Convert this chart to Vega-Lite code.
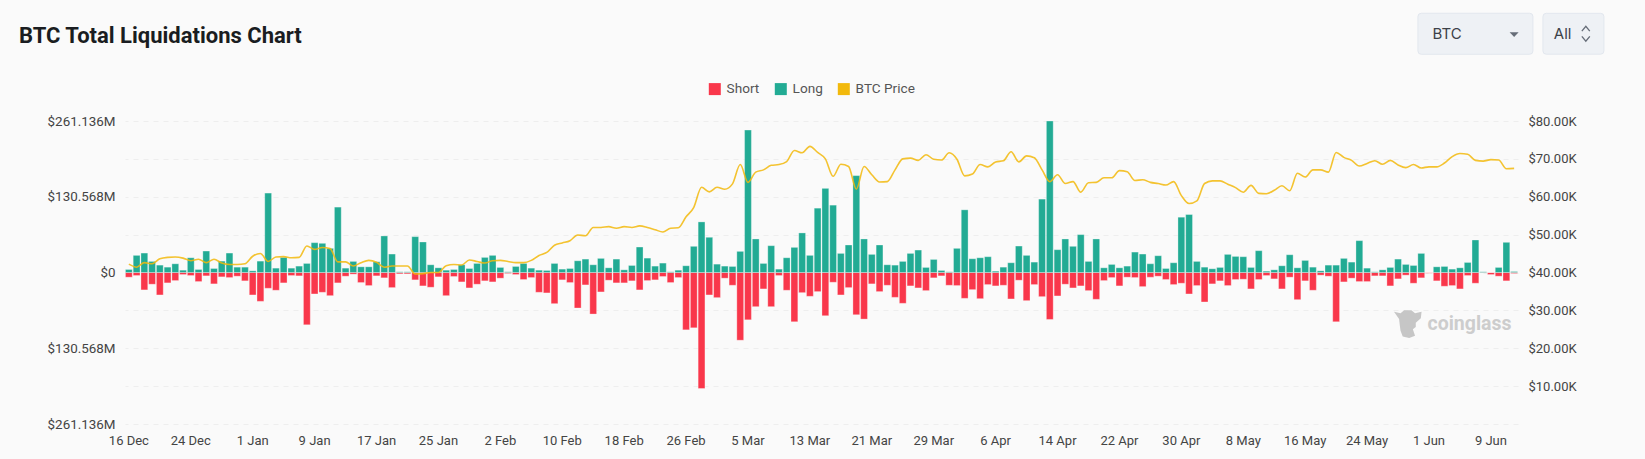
{"$schema":"https://vega.github.io/schema/vega-lite/v6.json","width":1393,"height":303,"autosize":{"type":"none"},"padding":{"left":125,"top":121,"right":127,"bottom":35},"background":"#fafafa","title":{"text":"BTC Total Liquidations Chart","anchor":"start","frame":"group","dx":-106,"offset":-54,"fontSize":22,"font":"Roboto","fontWeight":700,"color":"#1a1d21","baseline":"alphabetic"},"config":{"view":{"stroke":null},"axis":{"labelFont":"Roboto","labelFontSize":13,"labelColor":"#444444"}},"datasets":{"liq":[{"d":"16 Dec","Long":5.2,"Short":-8.1,"price":42.2},{"d":"17 Dec","Long":29.5,"Short":-5.2,"price":41.4},{"d":"18 Dec","Long":33.5,"Short":-30.0,"price":42.6},{"d":"19 Dec","Long":19.1,"Short":-20.2,"price":42.3},{"d":"20 Dec","Long":12.7,"Short":-38.7,"price":43.6},{"d":"21 Dec","Long":9.2,"Short":-17.9,"price":44.0},{"d":"22 Dec","Long":15.0,"Short":-13.9,"price":44.1},{"d":"23 Dec","Long":4.0,"Short":-3.5,"price":43.8},{"d":"24 Dec","Long":25.4,"Short":-5.2,"price":43.1},{"d":"25 Dec","Long":5.2,"Short":-15.6,"price":43.5},{"d":"26 Dec","Long":37.0,"Short":-5.8,"price":42.6},{"d":"27 Dec","Long":6.9,"Short":-19.6,"price":43.5},{"d":"28 Dec","Long":19.6,"Short":-7.5,"price":42.5},{"d":"29 Dec","Long":33.5,"Short":-8.7,"price":42.1},{"d":"30 Dec","Long":9.2,"Short":-6.4,"price":42.1},{"d":"31 Dec","Long":9.2,"Short":-14.4,"price":42.3},{"d":"1 Jan","Long":2.9,"Short":-38.7,"price":44.3},{"d":"2 Jan","Long":19.6,"Short":-49.7,"price":45.0},{"d":"3 Jan","Long":136.9,"Short":-27.2,"price":42.9},{"d":"4 Jan","Long":7.5,"Short":-30.6,"price":44.1},{"d":"5 Jan","Long":26.0,"Short":-17.9,"price":44.2},{"d":"6 Jan","Long":7.5,"Short":-5.2,"price":43.9},{"d":"7 Jan","Long":11.0,"Short":-5.8,"price":44.0},{"d":"8 Jan","Long":15.6,"Short":-90.1,"price":47.0},{"d":"9 Jan","Long":51.4,"Short":-37.0,"price":46.1},{"d":"10 Jan","Long":50.3,"Short":-34.1,"price":46.6},{"d":"11 Jan","Long":41.6,"Short":-39.9,"price":46.3},{"d":"12 Jan","Long":112.7,"Short":-17.9,"price":42.8},{"d":"13 Jan","Long":7.5,"Short":-6.4,"price":42.8},{"d":"14 Jan","Long":19.1,"Short":-2.9,"price":41.7},{"d":"15 Jan","Long":9.8,"Short":-17.3,"price":42.6},{"d":"16 Jan","Long":9.8,"Short":-22.5,"price":43.2},{"d":"17 Jan","Long":18.5,"Short":-5.8,"price":42.7},{"d":"18 Jan","Long":63.0,"Short":-9.2,"price":41.4},{"d":"19 Jan","Long":31.8,"Short":-26.0,"price":41.7},{"d":"20 Jan","Long":1.2,"Short":-2.3,"price":41.7},{"d":"21 Jan","Long":1.2,"Short":-2.3,"price":41.7},{"d":"22 Jan","Long":61.8,"Short":-12.7,"price":39.6},{"d":"23 Jan","Long":52.6,"Short":-23.1,"price":39.7},{"d":"24 Jan","Long":13.3,"Short":-25.4,"price":40.0},{"d":"25 Jan","Long":8.1,"Short":-7.5,"price":40.0},{"d":"26 Jan","Long":4.0,"Short":-39.9,"price":41.8},{"d":"27 Jan","Long":5.2,"Short":-6.9,"price":42.1},{"d":"28 Jan","Long":13.3,"Short":-16.2,"price":42.0},{"d":"29 Jan","Long":6.9,"Short":-26.6,"price":43.3},{"d":"30 Jan","Long":15.6,"Short":-20.2,"price":42.9},{"d":"31 Jan","Long":26.0,"Short":-14.4,"price":42.5},{"d":"1 Feb","Long":29.5,"Short":-16.2,"price":43.1},{"d":"2 Feb","Long":8.7,"Short":-9.8,"price":43.2},{"d":"3 Feb","Long":1.2,"Short":-1.7,"price":42.9},{"d":"4 Feb","Long":10.4,"Short":-3.5,"price":42.6},{"d":"5 Feb","Long":15.6,"Short":-12.1,"price":42.6},{"d":"6 Feb","Long":7.5,"Short":-8.7,"price":43.2},{"d":"7 Feb","Long":4.0,"Short":-34.1,"price":44.5},{"d":"8 Feb","Long":3.5,"Short":-35.2,"price":45.3},{"d":"9 Feb","Long":15.6,"Short":-53.7,"price":47.2},{"d":"10 Feb","Long":5.8,"Short":-12.7,"price":47.8},{"d":"11 Feb","Long":6.9,"Short":-17.3,"price":48.4},{"d":"12 Feb","Long":20.2,"Short":-61.2,"price":49.9},{"d":"13 Feb","Long":23.1,"Short":-21.4,"price":49.7},{"d":"14 Feb","Long":13.3,"Short":-71.6,"price":51.9},{"d":"15 Feb","Long":24.3,"Short":-33.5,"price":51.9},{"d":"16 Feb","Long":8.1,"Short":-13.3,"price":52.1},{"d":"17 Feb","Long":23.1,"Short":-17.9,"price":51.7},{"d":"18 Feb","Long":4.6,"Short":-17.9,"price":52.1},{"d":"19 Feb","Long":12.1,"Short":-14.4,"price":51.9},{"d":"20 Feb","Long":43.9,"Short":-30.0,"price":52.3},{"d":"21 Feb","Long":24.8,"Short":-13.9,"price":51.9},{"d":"22 Feb","Long":11.0,"Short":-12.7,"price":51.3},{"d":"23 Feb","Long":16.2,"Short":-6.9,"price":50.7},{"d":"24 Feb","Long":1.2,"Short":-17.3,"price":51.7},{"d":"25 Feb","Long":4.0,"Short":-8.7,"price":51.8},{"d":"26 Feb","Long":11.6,"Short":-98.8,"price":54.7},{"d":"27 Feb","Long":45.1,"Short":-95.3,"price":57.2},{"d":"28 Feb","Long":87.2,"Short":-199.9,"price":62.5},{"d":"29 Feb","Long":60.7,"Short":-38.7,"price":61.3},{"d":"1 Mar","Long":14.4,"Short":-43.3,"price":62.5},{"d":"2 Mar","Long":11.0,"Short":-9.8,"price":62.0},{"d":"3 Mar","Long":10.4,"Short":-22.0,"price":63.4},{"d":"4 Mar","Long":36.4,"Short":-116.7,"price":68.5},{"d":"5 Mar","Long":245.5,"Short":-81.5,"price":63.8},{"d":"6 Mar","Long":57.8,"Short":-58.9,"price":66.5},{"d":"7 Mar","Long":15.6,"Short":-28.3,"price":67.1},{"d":"8 Mar","Long":46.2,"Short":-58.9,"price":68.3},{"d":"9 Mar","Long":5.8,"Short":-5.2,"price":68.5},{"d":"10 Mar","Long":25.4,"Short":-30.6,"price":69.3},{"d":"11 Mar","Long":43.3,"Short":-84.9,"price":72.2},{"d":"12 Mar","Long":68.2,"Short":-34.7,"price":71.6},{"d":"13 Mar","Long":29.5,"Short":-41.0,"price":73.3},{"d":"14 Mar","Long":110.9,"Short":-32.9,"price":71.7},{"d":"15 Mar","Long":145.0,"Short":-74.5,"price":70.0},{"d":"16 Mar","Long":116.1,"Short":-16.8,"price":65.4},{"d":"17 Mar","Long":32.9,"Short":-38.7,"price":68.6},{"d":"18 Mar","Long":47.4,"Short":-26.0,"price":68.0},{"d":"19 Mar","Long":167.0,"Short":-72.8,"price":62.0},{"d":"20 Mar","Long":57.8,"Short":-80.3,"price":68.0},{"d":"21 Mar","Long":31.2,"Short":-19.6,"price":65.8},{"d":"22 Mar","Long":47.4,"Short":-32.9,"price":63.9},{"d":"23 Mar","Long":13.3,"Short":-22.0,"price":64.0},{"d":"24 Mar","Long":12.7,"Short":-42.8,"price":67.1},{"d":"25 Mar","Long":19.1,"Short":-53.1,"price":70.0},{"d":"26 Mar","Long":32.9,"Short":-23.1,"price":70.2},{"d":"27 Mar","Long":38.7,"Short":-26.6,"price":69.6},{"d":"28 Mar","Long":8.7,"Short":-31.2,"price":71.1},{"d":"29 Mar","Long":22.5,"Short":-9.2,"price":69.9},{"d":"30 Mar","Long":3.5,"Short":-5.8,"price":69.7},{"d":"31 Mar","Long":1.2,"Short":-22.0,"price":71.6},{"d":"1 Apr","Long":41.6,"Short":-22.5,"price":69.9},{"d":"2 Apr","Long":108.0,"Short":-44.5,"price":65.5},{"d":"3 Apr","Long":23.7,"Short":-29.5,"price":66.0},{"d":"4 Apr","Long":25.4,"Short":-45.1,"price":68.5},{"d":"5 Apr","Long":27.2,"Short":-20.8,"price":67.9},{"d":"6 Apr","Long":2.3,"Short":-23.1,"price":69.2},{"d":"7 Apr","Long":9.2,"Short":-22.0,"price":69.5},{"d":"8 Apr","Long":16.8,"Short":-45.6,"price":71.9},{"d":"9 Apr","Long":45.6,"Short":-13.3,"price":69.2},{"d":"10 Apr","Long":29.5,"Short":-48.5,"price":70.8},{"d":"11 Apr","Long":17.9,"Short":-20.8,"price":70.3},{"d":"12 Apr","Long":126.5,"Short":-41.6,"price":67.1},{"d":"13 Apr","Long":261.1,"Short":-80.9,"price":64.0},{"d":"14 Apr","Long":39.3,"Short":-40.4,"price":65.8},{"d":"15 Apr","Long":57.8,"Short":-20.2,"price":63.5},{"d":"16 Apr","Long":45.1,"Short":-26.6,"price":64.0},{"d":"17 Apr","Long":65.3,"Short":-23.1,"price":61.2},{"d":"18 Apr","Long":19.1,"Short":-31.2,"price":63.7},{"d":"19 Apr","Long":57.8,"Short":-46.2,"price":63.8},{"d":"20 Apr","Long":8.1,"Short":-13.9,"price":65.0},{"d":"21 Apr","Long":13.9,"Short":-8.7,"price":65.0},{"d":"22 Apr","Long":8.1,"Short":-23.1,"price":66.9},{"d":"23 Apr","Long":11.0,"Short":-8.1,"price":66.6},{"d":"24 Apr","Long":35.2,"Short":-8.7,"price":64.3},{"d":"25 Apr","Long":31.8,"Short":-24.3,"price":64.5},{"d":"26 Apr","Long":15.0,"Short":-8.1,"price":63.8},{"d":"27 Apr","Long":28.9,"Short":-6.4,"price":63.5},{"d":"28 Apr","Long":6.9,"Short":-12.1,"price":63.1},{"d":"29 Apr","Long":16.8,"Short":-20.8,"price":64.0},{"d":"30 Apr","Long":95.3,"Short":-18.5,"price":60.3},{"d":"1 May","Long":99.9,"Short":-37.0,"price":58.2},{"d":"2 May","Long":19.1,"Short":-22.5,"price":58.9},{"d":"3 May","Long":9.2,"Short":-50.8,"price":63.5},{"d":"4 May","Long":6.4,"Short":-19.6,"price":64.2},{"d":"5 May","Long":8.7,"Short":-14.4,"price":64.2},{"d":"6 May","Long":31.2,"Short":-22.5,"price":63.3},{"d":"7 May","Long":27.7,"Short":-12.1,"price":62.4},{"d":"8 May","Long":27.2,"Short":-11.6,"price":61.2},{"d":"9 May","Long":8.7,"Short":-28.3,"price":63.0},{"d":"10 May","Long":37.6,"Short":-12.1,"price":60.9},{"d":"11 May","Long":2.3,"Short":-5.2,"price":60.8},{"d":"12 May","Long":4.6,"Short":-11.0,"price":61.7},{"d":"13 May","Long":11.6,"Short":-28.3,"price":62.9},{"d":"14 May","Long":30.6,"Short":-8.1,"price":61.6},{"d":"15 May","Long":8.1,"Short":-46.8,"price":66.2},{"d":"16 May","Long":20.8,"Short":-14.4,"price":65.2},{"d":"17 May","Long":9.2,"Short":-30.6,"price":67.1},{"d":"18 May","Long":2.9,"Short":-4.6,"price":67.1},{"d":"19 May","Long":12.7,"Short":-6.4,"price":66.5},{"d":"20 May","Long":12.7,"Short":-84.9,"price":71.7},{"d":"21 May","Long":24.3,"Short":-16.2,"price":70.4},{"d":"22 May","Long":17.9,"Short":-9.8,"price":69.6},{"d":"23 May","Long":54.9,"Short":-15.6,"price":68.1},{"d":"24 May","Long":7.5,"Short":-15.6,"price":68.8},{"d":"25 May","Long":1.2,"Short":-5.8,"price":69.5},{"d":"26 May","Long":4.6,"Short":-5.8,"price":68.6},{"d":"27 May","Long":8.7,"Short":-23.1,"price":69.6},{"d":"28 May","Long":23.1,"Short":-11.0,"price":68.4},{"d":"29 May","Long":13.9,"Short":-4.6,"price":67.7},{"d":"30 May","Long":12.1,"Short":-18.5,"price":68.5},{"d":"31 May","Long":32.9,"Short":-9.2,"price":67.6},{"d":"1 Jun","Long":0,"Short":-1.2,"price":67.9},{"d":"2 Jun","Long":9.8,"Short":-14.4,"price":67.9},{"d":"3 Jun","Long":10.4,"Short":-23.7,"price":68.9},{"d":"4 Jun","Long":5.8,"Short":-22.5,"price":70.6},{"d":"5 Jun","Long":8.1,"Short":-28.3,"price":71.4},{"d":"6 Jun","Long":17.3,"Short":-5.2,"price":71.2},{"d":"7 Jun","Long":56.0,"Short":-18.5,"price":69.6},{"d":"8 Jun","Long":1.2,"Short":-0.6,"price":69.4},{"d":"9 Jun","Long":0,"Short":-3.5,"price":69.8},{"d":"10 Jun","Long":8.7,"Short":-6.4,"price":69.7},{"d":"11 Jun","Long":52.0,"Short":-14.4,"price":67.4},{"d":"12 Jun","Long":1.7,"Short":-1.7,"price":67.5}]},"layer":[{"data":{"name":"liq"},"transform":[{"fold":["Short","Long"],"as":["series","value"]}],"mark":{"type":"bar","stroke":"#ffffff","strokeOpacity":0.3,"strokeWidth":1},"encoding":{"x":{"field":"d","type":"nominal","sort":null,"title":null,"scale":{"type":"band","paddingInner":0.12,"paddingOuter":0.06},"axis":{"values":["16 Dec","24 Dec","1 Jan","9 Jan","17 Jan","25 Jan","2 Feb","10 Feb","18 Feb","26 Feb","5 Mar","13 Mar","21 Mar","29 Mar","6 Apr","14 Apr","22 Apr","30 Apr","8 May","16 May","24 May","1 Jun","9 Jun"],"labelAngle":0,"labelOverlap":false,"ticks":false,"domain":false,"grid":false,"labelPadding":16,"labelAlign":"center","labelBaseline":"middle"}},"y":{"field":"value","type":"quantitative","stack":null,"title":null,"scale":{"domain":[-261.136,261.136],"nice":false,"zero":false},"axis":{"orient":"left","values":[-261.136,-130.568,0,130.568,261.136],"labelExpr":"datum.value==0?'$0':'$'+format(abs(datum.value),'.3f')+'M'","labelFontSize":13.4,"ticks":false,"domain":false,"grid":false,"labelPadding":10}},"color":{"field":"series","type":"nominal","title":null,"scale":{"domain":["Short","Long","BTC Price"],"range":["#f9374b","#22ab94","#f2b90c"]},"legend":{"orient":"none","legendX":583,"legendY":-39,"direction":"horizontal","symbolType":"M-1,-1H1V1H-1Z","symbolSize":144,"symbolStrokeWidth":0,"labelFont":"Roboto","labelFontSize":13.6,"labelColor":"#555555","columnPadding":14,"labelOffset":5,"title":null}}}},{"data":{"name":"liq"},"mark":{"type":"line","interpolate":"monotone","strokeWidth":1.6,"opacity":0.85},"encoding":{"x":{"field":"d","type":"nominal","sort":null},"y":{"field":"price","type":"quantitative","title":null,"scale":{"domain":[0,80],"nice":false,"zero":false},"axis":{"orient":"right","values":[0,10,20,30,40,50,60,70,80],"labelExpr":"datum.value==0?'':'$'+format(datum.value,'.2f')+'K'","ticks":false,"domain":false,"grid":true,"gridColor":"#eeeeee","gridDash":[5,5],"gridWidth":1,"labelPadding":10}},"color":{"datum":"BTC Price","type":"nominal","legend":null}}},{"data":{"values":[{"widget":"BTC"}]},"layer":[{"mark":{"type":"point","filled":true,"fill":"#eef1f5","stroke":"#e2e7ee","strokeWidth":1,"opacity":1,"shape":"M-0.94,-0.357Q-1,-0.357,-1,-0.3V0.3Q-1,0.357,-0.94,0.357H0.94Q1,0.357,1,0.3V-0.3Q1,-0.357,0.94,-0.357Z","size":13225},"encoding":{"x":{"datum":"7 Jun","type":"nominal"},"y":{"datum":411.5,"type":"quantitative","scale":{"domain":[-261.136,261.136],"nice":false,"zero":false},"axis":null}}},{"mark":{"type":"point","filled":true,"fill":"#eef1f5","stroke":"#e2e7ee","strokeWidth":1,"opacity":1,"xOffset":59.3,"shape":"M-0.89,-0.67Q-1,-0.67,-1,-0.56V0.56Q-1,0.67,-0.89,0.67H0.89Q1,0.67,1,0.56V-0.56Q1,-0.67,0.89,-0.67Z","size":3721},"encoding":{"x":{"datum":"12 Jun","type":"nominal"},"y":{"datum":411.5,"type":"quantitative","scale":{"domain":[-261.136,261.136],"nice":false,"zero":false},"axis":null}}},{"mark":{"type":"text","text":"BTC","font":"Inter","fontSize":15,"color":"#3c4148","align":"left","baseline":"middle","dx":-43},"encoding":{"x":{"datum":"7 Jun","type":"nominal"},"y":{"datum":411.5,"type":"quantitative","scale":{"domain":[-261.136,261.136],"nice":false,"zero":false},"axis":null}}},{"mark":{"type":"point","filled":true,"fill":"#666d78","opacity":1,"shape":"M-1,-0.55H1L0,0.55Z","size":81},"encoding":{"x":{"datum":"12 Jun","type":"nominal"},"y":{"datum":410,"type":"quantitative","scale":{"domain":[-261.136,261.136],"nice":false,"zero":false},"axis":null}}},{"mark":{"type":"text","text":"All","font":"Inter","fontSize":15,"color":"#3c4148","align":"left","baseline":"middle","dx":39.7},"encoding":{"x":{"datum":"12 Jun","type":"nominal"},"y":{"datum":411.5,"type":"quantitative","scale":{"domain":[-261.136,261.136],"nice":false,"zero":false},"axis":null}}},{"mark":{"type":"point","filled":false,"stroke":"#666d78","strokeWidth":1.3,"opacity":1,"xOffset":71.7,"shape":"M-0.53,-0.35L0,-1L0.53,-0.35M-0.53,0.35L0,1L0.53,0.35","size":225},"encoding":{"x":{"datum":"12 Jun","type":"nominal"},"y":{"datum":411.5,"type":"quantitative","scale":{"domain":[-261.136,261.136],"nice":false,"zero":false},"axis":null}}},{"mark":{"type":"point","filled":true,"fill":"#c6c6c6","opacity":1,"xOffset":2,"shape":"M-0.95,-0.85L-0.5,-0.75L-0.25,-0.95L0.25,-0.95L0.5,-0.75L0.95,-0.85L0.9,-0.4L0.55,-0.1L0.55,0.2L0.35,0.35L0.5,0.8L0.1,0.95L-0.35,0.85L-0.5,0.45L-0.55,0.1L-0.6,-0.35Z","size":841},"encoding":{"x":{"datum":"29 May","type":"nominal"},"y":{"datum":-89,"type":"quantitative","scale":{"domain":[-261.136,261.136],"nice":false,"zero":false},"axis":null}}},{"mark":{"type":"text","text":"coinglass","font":"Roboto","fontWeight":700,"fontSize":19.5,"color":"#cdcdcd","align":"left","baseline":"middle","dx":-1.5},"encoding":{"x":{"datum":"1 Jun","type":"nominal"},"y":{"datum":-88,"type":"quantitative","scale":{"domain":[-261.136,261.136],"nice":false,"zero":false},"axis":null}}}]}],"resolve":{"scale":{"y":"independent"},"axis":{"y":"independent"}}}
